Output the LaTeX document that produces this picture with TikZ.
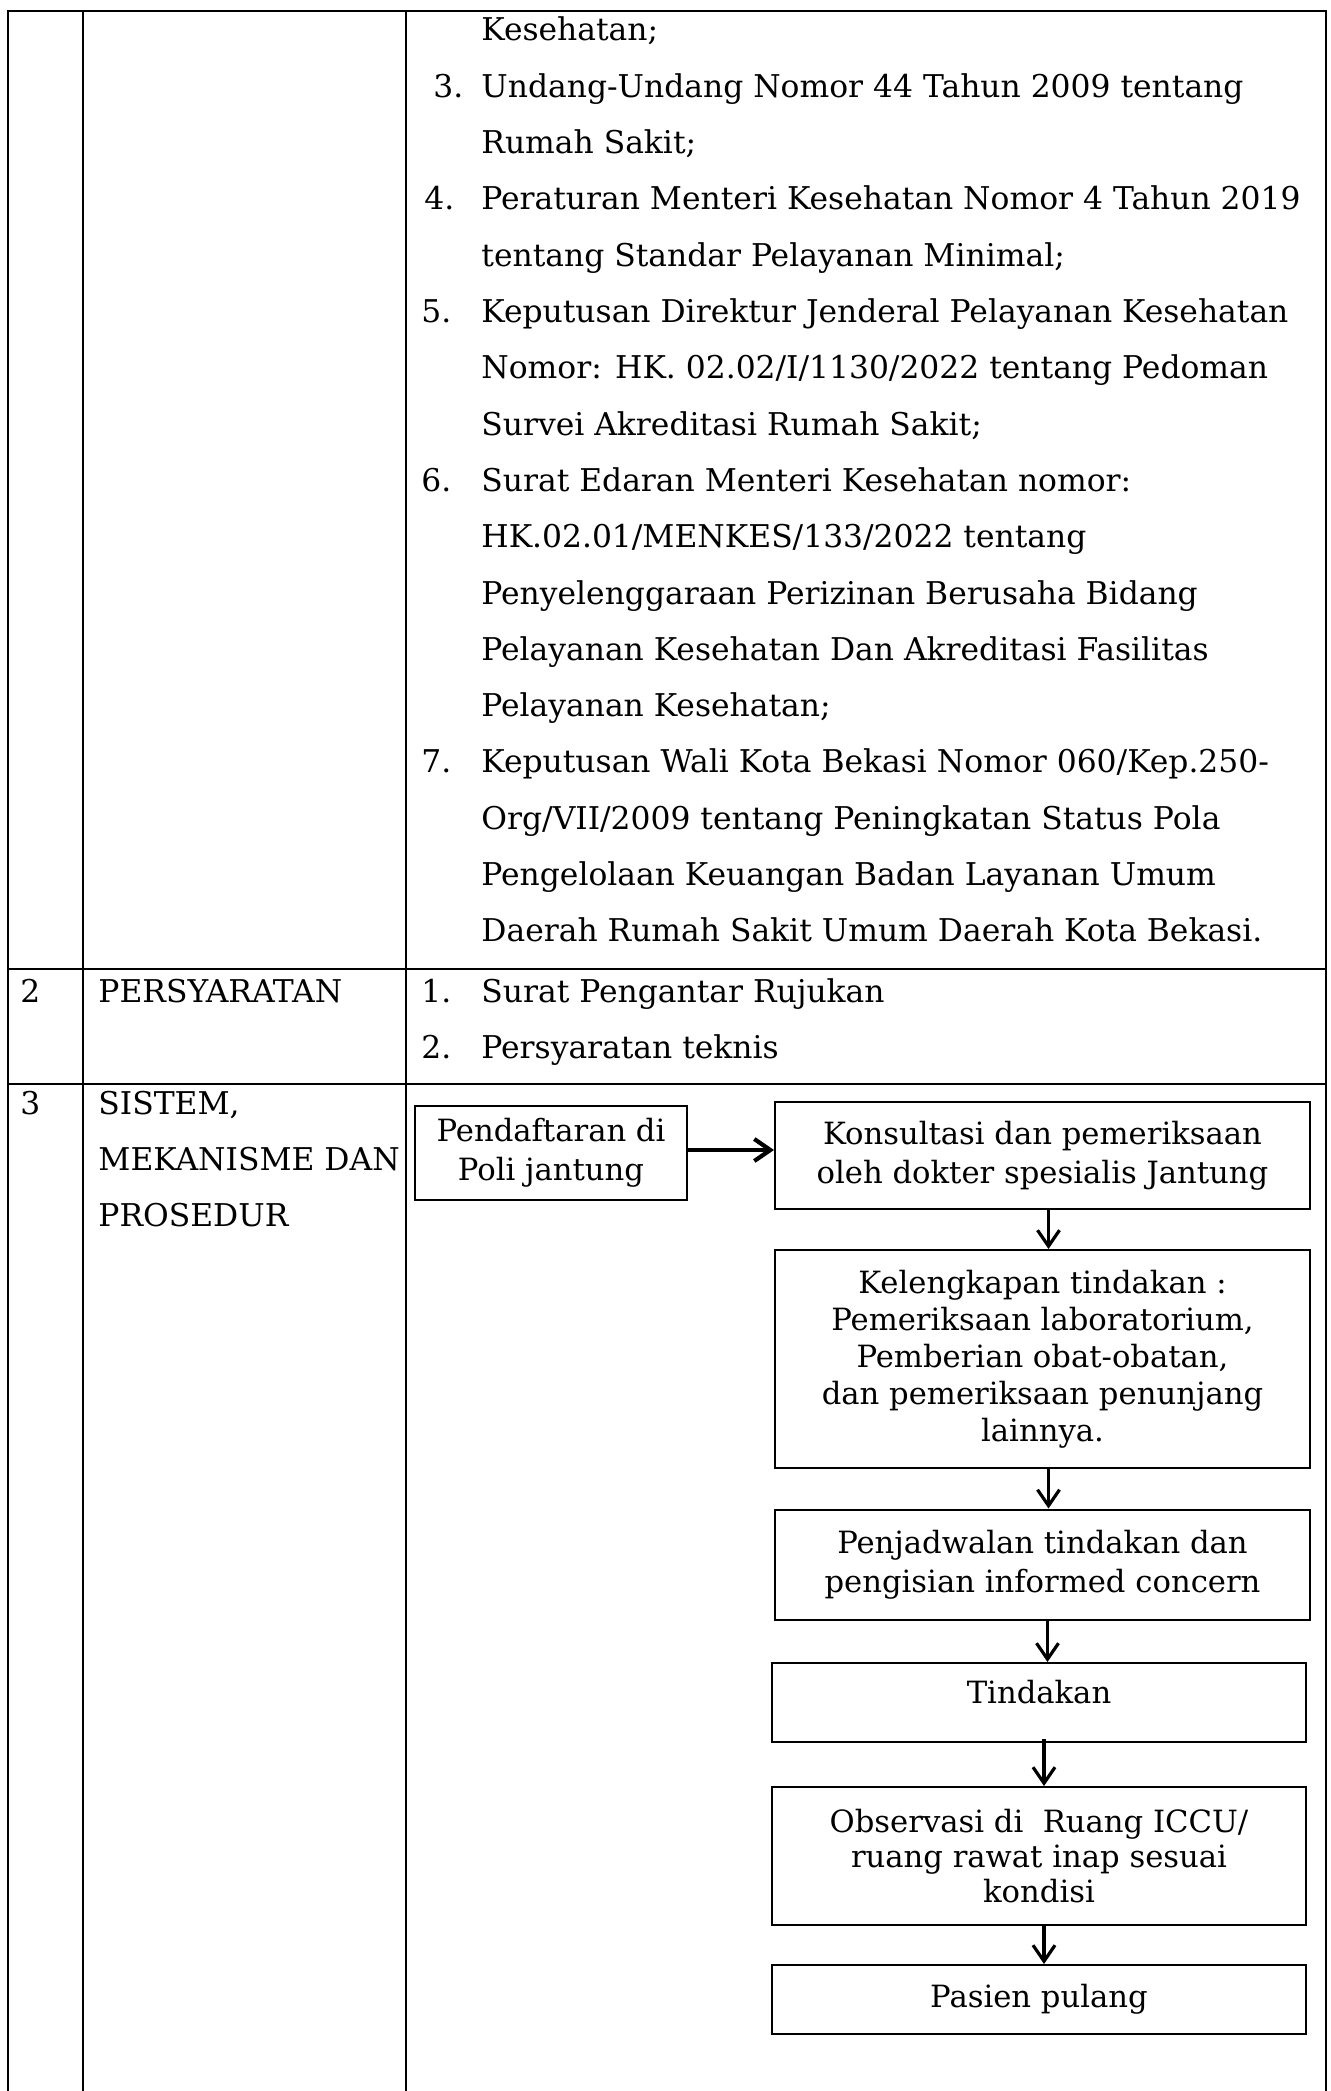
\documentclass[tikz,border=0pt]{standalone}
\usepackage{fontspec}
\setmainfont{DejaVu Serif}
\usetikzlibrary{arrows.meta}
\newbox\measbox
\newdimen\measdim

\begin{document}
% font sizes derived from the widths of two reference lines
\setbox\measbox\hbox{\fontsize{10pt}{12pt}\selectfont Keputusan Direktur Jenderal Pelayanan Kesehatan}%
\measdim=\wd\measbox
\pgfmathsetmacro\tabsize{10*403.5/\the\measdim}%
\setbox\measbox\hbox{\fontsize{10pt}{12pt}\selectfont pengisian informed concern}%
\measdim=\wd\measbox
\pgfmathsetmacro\boxsize{10*218/\the\measdim}%
\begin{tikzpicture}[x=0.5pt,y=-0.5pt,
  rule/.style={line width=1.3pt},
  celltext/.style={anchor=base west, inner sep=0pt,
    font=\fontsize{\tabsize pt}{\tabsize pt}\selectfont},
  stepbox/.style={draw, line width=1pt, inner sep=0pt, align=center,
    font=\fontsize{\boxsize pt}{19.5pt}\selectfont},
  flow/.style={line width=1.6pt, -{Straight Barb[length=8pt,width=11pt]}},
  flowthick/.style={line width=2.1pt, -{Straight Barb[length=8pt,width=11pt]}}]

\useasboundingbox (0,0) rectangle (1331,2091);
\fill[white] (0,0) rectangle (1331,2091);

% table grid
\draw[rule] (8,2091) -- (8,11) -- (1326,11) -- (1326,2091);
\draw[rule] (83,11) -- (83,2091);
\draw[rule] (406,11) -- (406,2091);
\draw[rule] (8,969) -- (1326,969);
\draw[rule] (8,1084) -- (1326,1084);

% row 1 (continued): legal basis list
\def\ls{56.3}
\node[celltext] (l0)  at (481,{41+0*\ls})  {Kesehatan;};
\node[celltext] (n3)  at (433,{41+1*\ls})  {3.};
\node[celltext] (l1)  at (481,{41+1*\ls})  {Undang-Undang Nomor 44 Tahun 2009 tentang};
\node[celltext] (l2)  at (481,{41+2*\ls})  {Rumah Sakit;};
\node[celltext] (n4)  at (424,{41+3*\ls})  {4.};
\node[celltext] (l3)  at (481,{41+3*\ls})  {Peraturan Menteri Kesehatan Nomor 4 Tahun 2019};
\node[celltext] (l4)  at (481,{41+4*\ls})  {tentang Standar Pelayanan Minimal;};
\node[celltext] (n5)  at (421,{41+5*\ls})  {5.};
\node[celltext] (l5)  at (481,{41+5*\ls})  {Keputusan Direktur Jenderal Pelayanan Kesehatan};
\node[celltext] (l6)  at (481,{41+6*\ls})  {Nomor: HK. 02.02/I/1130/2022 tentang Pedoman};
\node[celltext] (l7)  at (481,{41+7*\ls})  {Survei Akreditasi Rumah Sakit;};
\node[celltext] (n6)  at (421,{41+8*\ls})  {6.};
\node[celltext] (l8)  at (481,{41+8*\ls})  {Surat Edaran Menteri Kesehatan nomor:};
\node[celltext] (l9)  at (481,{41+9*\ls})  {HK.02.01/MENKES/133/2022 tentang};
\node[celltext] (l10) at (481,{41+10*\ls}) {Penyelenggaraan Perizinan Berusaha Bidang};
\node[celltext] (l11) at (481,{41+11*\ls}) {Pelayanan Kesehatan Dan Akreditasi Fasilitas};
\node[celltext] (l12) at (481,{41+12*\ls}) {Pelayanan Kesehatan;};
\node[celltext] (n7)  at (421,{41+13*\ls}) {7.};
\node[celltext] (l13) at (481,{41+13*\ls}) {Keputusan Wali Kota Bekasi Nomor 060/Kep.250-};
\node[celltext] (l14) at (481,{41+14*\ls}) {Org/VII/2009 tentang Peningkatan Status Pola};
\node[celltext] (l15) at (481,{41+15*\ls}) {Pengelolaan Keuangan Badan Layanan Umum};
\node[celltext] (l16) at (481,{41+16*\ls}) {Daerah Rumah Sakit Umum Daerah Kota Bekasi.};

% row 2: requirements
\node[celltext] (r2no)  at (20,1002) {2};
\node[celltext] (r2hd)  at (98,1002) {PERSYARATAN};
\node[celltext] (p1no)  at (421,1002) {1.};
\node[celltext] (p1)    at (481,1002) {Surat Pengantar Rujukan};
\node[celltext] (p2no)  at (421,1058) {2.};
\node[celltext] (p2)    at (481,1058) {Persyaratan teknis};

% row 3: system, mechanism and procedure
\node[celltext] (r3no)  at (20,1114) {3};
\node[celltext] (r3a)   at (98,1114) {SISTEM,};
\node[celltext] (r3b)   at (98,1170) {MEKANISME DAN};
\node[celltext] (r3c)   at (98,1226) {PROSEDUR};

% procedure flow
\node[stepbox, minimum width=136pt, minimum height=47pt] (pend) at (551,1153)
  {Pendaftaran di\\Poli jantung};
\node[stepbox, minimum width=267.5pt, minimum height=53.5pt] (kons) at (1042.5,1155.5)
  {Konsultasi dan pemeriksaan\\oleh dokter spesialis Jantung};
\node[stepbox, minimum width=267.5pt, minimum height=109pt,
      font=\fontsize{\boxsize pt}{18.5pt}\selectfont] (kel) at (1042.5,1359)
  {Kelengkapan tindakan :\\Pemeriksaan laboratorium,\\Pemberian obat-obatan,\\dan pemeriksaan penunjang\\lainnya.};
\node[stepbox, minimum width=267.5pt, minimum height=55pt] (jad) at (1042.5,1564.5)
  {Penjadwalan tindakan dan\\pengisian informed concern};
\node[stepbox, minimum width=267pt, minimum height=39.5pt, text depth=11pt] (tin) at (1039,1702.5)
  {Tindakan};
\node[stepbox, minimum width=267pt, minimum height=69pt,
      font=\fontsize{\boxsize pt}{17.5pt}\selectfont] (obs) at (1039,1856)
  {Observasi di\ \ Ruang ICCU/\\ruang rawat inap sesuai\\kondisi};
\node[stepbox, minimum width=267pt, minimum height=34.5pt] (pas) at (1039,1999.5)
  {Pasien pulang};

% connectors between the steps
\coordinate (pendout) at ([yshift=1.5pt]pend.east);
\coordinate (jadout) at ([xshift=2.5pt]jad.south);
\draw[flowthick] (pendout) -- (pendout -| kons.west);
\draw[flow] ([xshift=3pt]kons.south) -- ([xshift=3pt]kel.north);
\draw[flow] ([xshift=3pt]kel.south) -- ([xshift=3pt]jad.north);
\draw[flow] (jadout) -- (jadout |- tin.north);
\draw[flow] ([xshift=2.5pt,yshift=2pt]tin.south) -- ([xshift=2.5pt]obs.north);
\draw[flow] ([xshift=2.5pt]obs.south) -- ([xshift=2.5pt]pas.north);
\end{tikzpicture}
\end{document}
